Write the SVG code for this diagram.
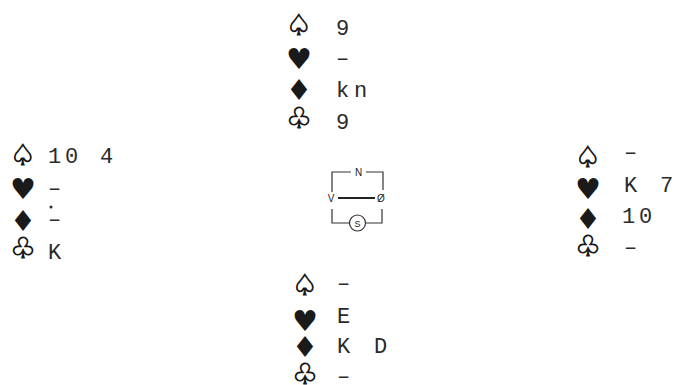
<svg xmlns="http://www.w3.org/2000/svg" width="675" height="385" viewBox="0 0 675 385">
<style>
.t{font-family:"Liberation Mono","DejaVu Sans Mono",monospace;font-size:22px;fill:#2a2a2a}
.s{font-family:"DejaVu Sans",sans-serif;font-size:29px;fill:#1a1a1a;text-anchor:middle}
.o{stroke:#1a1a1a;stroke-width:0.9}
.c{font-family:"Liberation Sans",Arial,sans-serif;font-size:10px;fill:#222;text-anchor:middle}
.ln{stroke:#333;stroke-width:1.2;fill:none}
</style>
<rect width="675" height="385" fill="#fff"/>
<g id="north">
<text class="s o" x="299" y="35">♤</text><text class="t" x="336" y="35">9</text>
<text class="s" x="299" y="69">♥</text><text class="t" x="336" y="65">–</text>
<text class="s" x="299" y="100">♦</text><text class="t" x="336 354" y="97">kn</text>
<text class="s o" x="299" y="128">♧</text><text class="t" x="336" y="129">9</text>
</g>
<g id="west">
<text class="s o" x="23" y="165">♤</text><text class="t" x="48 65 100" y="163">104</text>
<text class="s" x="23" y="199">♥</text><text class="t" x="48" y="195">–</text>
<circle cx="51" cy="207" r="1.5" fill="#2a2a2a"/>
<text class="s" x="23" y="231">♦</text><text class="t" x="48" y="226">–</text>
<text class="s o" x="23" y="258">♧</text><text class="t" x="48" y="259">K</text>
</g>
<g id="east">
<text class="s o" x="588" y="167">♤</text><text class="t" x="624" y="159">–</text>
<text class="s" x="588" y="199">♥</text><text class="t" x="624 660" y="192">K7</text>
<text class="s" x="588" y="229">♦</text><text class="t" x="622 639" y="223">10</text>
<text class="s o" x="588" y="256">♧</text><text class="t" x="624" y="254">–</text>
</g>
<g id="south">
<text class="s o" x="305" y="295">♤</text><text class="t" x="337" y="290">–</text>
<text class="s" x="305" y="331">♥</text><text class="t" x="337" y="323">E</text>
<text class="s" x="305" y="357">♦</text><text class="t" x="337 374" y="353">KD</text>
<text class="s o" x="305" y="384">♧</text><text class="t" x="337" y="383">–</text>
</g>
<g id="compass">
<path class="ln" d="M332 192V172H351M366 172H383V190"/>
<text class="c" x="358.5" y="176">N</text>
<text class="c" x="331" y="202">V</text>
<path d="M338 198H375" stroke="#222" stroke-width="2"/>
<text class="c" x="381" y="202">Ø</text>
<path class="ln" d="M332 209V223H349M366 223H382V209"/>
<circle class="ln" cx="357.5" cy="223" r="8"/>
<text class="c" x="357.5" y="226.5" style="font-size:9px">S</text>
</g>
</svg>
